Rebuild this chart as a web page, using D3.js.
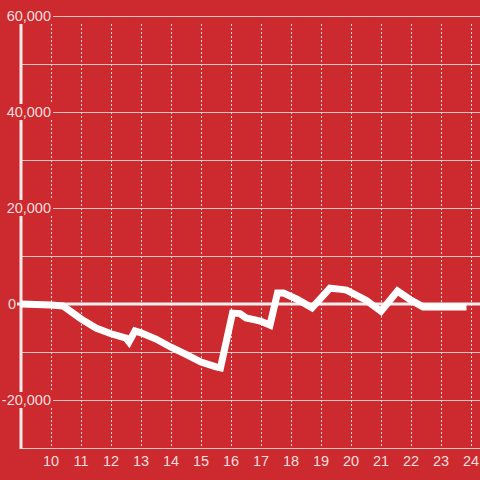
<!DOCTYPE html>
<html>
<head>
<meta charset="utf-8">
<script src="https://cdn.jsdelivr.net/npm/d3@7"></script>
<style>
  html, body { margin: 0; padding: 0; background: #cc2a2f; }
  svg { display: block; font-family: "Liberation Sans", Arial, sans-serif; }
</style>
</head>
<body>
<svg></svg>
<script>
// hours of the day and the running balance at each point
var hours = [9, 10, 10.4, 11, 11.5, 12, 12.5, 12.6, 12.8, 13, 13.5, 14, 14.5, 15, 15.5, 15.65,
             16.05, 16.3, 16.5, 16.8, 17, 17.3, 17.55, 17.75, 18.2, 18.7, 19.3, 19.6, 19.85,
             20.5, 21, 21.55, 22, 22.4, 23.85];
var values = [0, -200, -400, -3100, -5000, -6200, -7100, -7900, -5600, -6000, -7300, -9000, -10500, -12100, -13100, -13300,
              -1900, -2000, -2900, -3300, -3600, -4400, 2300, 2300, 1000, -800, 3300, 3100, 2900,
              800, -1500, 2700, 800, -600, -600];
var xTicks = [10, 11, 12, 13, 14, 15, 16, 17, 18, 19, 20, 21, 22, 23, 24];
var yLabelTicks = [-20000, 0, 20000, 40000, 60000];
var yGridTicks = [-30000, -20000, -10000, 0, 10000, 20000, 30000, 40000, 50000, 60000];

var width = 480, height = 480;
var svg = d3.select("svg").attr("width", width).attr("height", height);

var x = d3.scaleLinear().domain([9, 24.3]).range([21, 480]);
var y = d3.scaleLinear().domain([-30000, 60000]).range([448, 16]);
var fmt = function (d) { return d3.format(",")(d).replace("\u2212", "-"); };

svg.append("rect").attr("width", width).attr("height", height).attr("fill", "#cc2a2f");

// horizontal grid
svg.append("g").selectAll("line").data(yGridTicks).enter().append("line")
    .attr("x1", 21).attr("x2", 480)
    .attr("y1", function (d) { return Math.round(y(d)) + 0.5; })
    .attr("y2", function (d) { return Math.round(y(d)) + 0.5; })
    .attr("stroke", "#d9c4c4").attr("stroke-width", 1);

// vertical dotted grid
svg.append("g").selectAll("line").data(xTicks).enter().append("line")
    .attr("x1", function (d) { return Math.round(x(d)) + 0.5; })
    .attr("x2", function (d) { return Math.round(x(d)) + 0.5; })
    .attr("y1", 24).attr("y2", 447)
    .attr("stroke", "#eadada").attr("stroke-width", 1)
    .attr("stroke-dasharray", "2,2");

// zero line
svg.append("line")
    .attr("x1", 17).attr("x2", 480)
    .attr("y1", y(0)).attr("y2", y(0))
    .attr("stroke", "#f4eeee").attr("stroke-width", 3);

// y axis line
svg.append("line")
    .attr("x1", 21).attr("x2", 21)
    .attr("y1", 16).attr("y2", 449)
    .attr("stroke", "#f2eaea").attr("stroke-width", 3);

// y labels with background boxes
var yl = svg.append("g").selectAll("g").data(yLabelTicks).enter().append("g")
    .attr("transform", function (d) { return "translate(0," + y(d) + ")"; });
yl.append("rect")
    .attr("x", 0).attr("y", -8)
    .attr("width", function (d) { return d === 0 ? 17 : 53; })
    .attr("height", 16)
    .attr("fill", "#cc2a2f");
yl.append("text")
    .attr("x", function (d) { return d === 0 ? 16 : 51; })
    .attr("y", 5)
    .attr("text-anchor", "end")
    .attr("font-size", 14.5)
    .attr("fill", "#f6dede")
    .text(fmt);

// x labels
svg.append("g").selectAll("text").data(xTicks).enter().append("text")
    .attr("x", function (d) { return x(d); })
    .attr("y", 466)
    .attr("text-anchor", "middle")
    .attr("font-size", 14.5)
    .attr("fill", "#f6dede")
    .text(function (d) { return d; });

// the series
var line = d3.line()
    .x(function (d, i) { return x(hours[i]); })
    .y(function (d) { return y(d); });
svg.append("path")
    .datum(values)
    .attr("d", line)
    .attr("fill", "none")
    .attr("stroke", "#ffffff")
    .attr("stroke-width", 7)
    .attr("stroke-linejoin", "miter");
</script>
</body>
</html>
